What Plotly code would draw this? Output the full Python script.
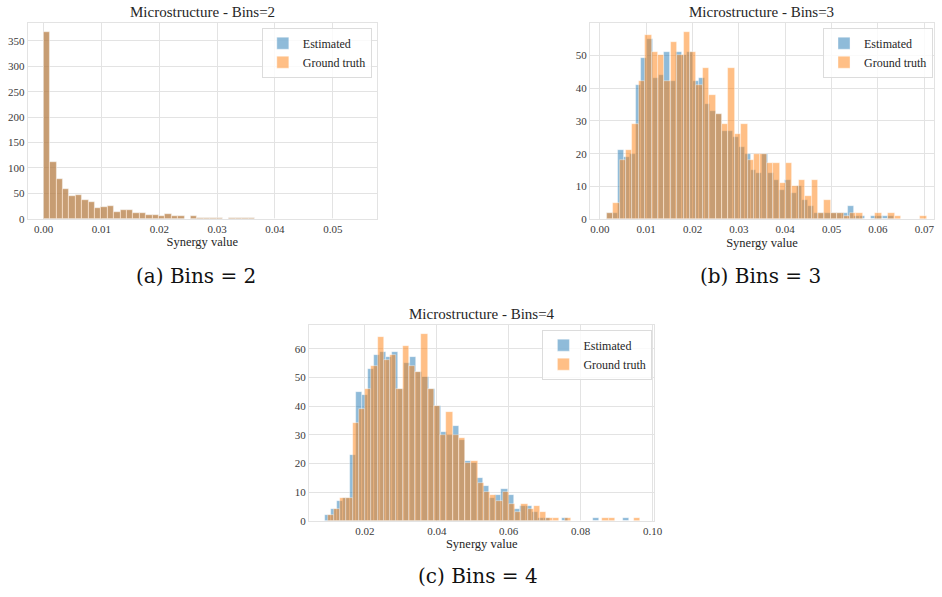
import plotly.graph_objects as go

# ---------------- data ----------------
# Panel (a): Bins=2
a_start, a_width = 0.0, 0.001106
a_est = [367, 111, 79, 59, 44, 47, 36, 33, 22, 24, 25, 13, 17, 17, 12, 12, 8, 7, 6, 9,
         6, 6, 0, 5, 2, 2, 2, 2, 0, 2, 2, 2, 2, 0, 0, 0, 0, 0, 0, 0,
         0, 0, 0, 0, 0, 0, 0, 0, 0, 0]
a_gt = [367, 111, 79, 59, 44, 47, 36, 33, 22, 24, 25, 13, 17, 17, 12, 12, 8, 7, 6, 9,
        6, 6, 0, 5, 2, 2, 2, 2, 0, 2, 2, 2, 2, 0, 0, 0, 0, 0, 0, 0,
        0, 0, 0, 0, 0, 0, 0, 0, 0, 0]

# Panel (b): Bins=3
b_est_start, b_est_width = 0.0015, 0.00124
b_est = [2, 2, 21, 19, 20, 41, 49, 55, 43, 44, 51, 42, 51, 50, 51, 42, 43, 35, 33, 32,
         27, 27, 25, 22, 20, 15, 14, 20, 14, 12, 9, 12, 8, 10, 6, 4, 2, 2, 2, 2,
         2, 2, 4, 1, 1, 0, 1, 1, 1, 1]
b_gt_start, b_gt_width = 0.0015, 0.00138
b_gt = [2, 5, 18, 21, 29, 42, 56, 51, 50, 42, 54, 50, 57, 51, 41, 46, 38, 32, 29, 46,
        26, 29, 18, 20, 20, 17, 17, 11, 17, 10, 12, 7, 12, 2, 6, 2, 2, 1, 2, 2,
        0, 0, 2, 0, 2, 1, 0, 0, 0, 1]

# Panel (c): Bins=4
c_est_start, c_est_width = 0.009, 0.00169
c_est = [2, 4, 7, 8, 23, 45, 44, 53, 58, 59, 57, 59, 46, 55, 57, 52, 50, 46, 40, 31,
         30, 33, 28, 21, 20, 15, 12, 8, 9, 11, 9, 4, 5, 5, 3, 1, 1, 0, 0, 1,
         0, 0, 0, 0, 1, 0, 0, 0, 0, 1]
c_gt_start, c_gt_width = 0.0097, 0.001736
c_gt = [2, 4, 8, 8, 34, 39, 46, 54, 64, 56, 58, 46, 61, 54, 52, 65, 46, 40, 30, 38,
        30, 29, 20, 21, 13, 10, 9, 7, 10, 6, 3, 6, 4, 5, 3, 1, 1, 0, 1, 0,
        0, 0, 0, 0, 1, 1, 0, 0, 0, 1]

titles = ["Microstructure - Bins=2", "Microstructure - Bins=3", "Microstructure - Bins=4"]
captions = ["(a) Bins = 2", "(b) Bins = 3", "(c) Bins = 4"]
series_names = ["Estimated", "Ground truth"]

# ---------------- styling ----------------
W, H = 942, 597
FONT = "Liberation Serif"
TXT = "#262626"
GRID = "#e3e3e3"
BLUE = "rgba(31,119,180,0.5)"
ORANGE = "rgba(255,127,14,0.5)"
EDGE = "rgba(255,255,255,0.55)"

def px_x(p):
    return p / W

def px_y(p):
    return 1 - p / H

# panel boxes in pixels: (left, right, top, bottom)
boxes = [(28, 380, 23.3, 221), (595, 942, 23.3, 221.5), (311.7, 660, 328.3, 526)]
xranges = [[-0.00275, 0.0576], [-0.00214, 0.0721], [0.0045, 0.1005]]
yranges = [[0, 385], [0, 59.8], [0, 68.3]]
xdticks = [0.01, 0.01, 0.02]
ydticks = [50, 10, 10]
legend_pos = [(375, 28), (941, 28), (658, 333)]
caption_pos = [(198, 279), (767, 279), (482, 582)]

panels = [
    (a_start, a_width, a_est, a_start, a_width, a_gt),
    (b_est_start, b_est_width, b_est, b_gt_start, b_gt_width, b_gt),
    (c_est_start, c_est_width, c_est, c_gt_start, c_gt_width, c_gt),
]

fig = go.Figure()
layout = {}
annotations = []

for k, (es, ew, ec, gs, gw, gc) in enumerate(panels):
    ax = "" if k == 0 else str(k + 1)
    lg = "legend" if k == 0 else f"legend{k + 1}"
    for name, start, width, counts, color in [
        (series_names[0], es, ew, ec, BLUE),
        (series_names[1], gs, gw, gc, ORANGE),
    ]:
        xs = [start + width * i for i in range(len(counts))]
        fig.add_trace(go.Bar(
            x=xs, y=counts, width=width, offset=0, name=name,
            marker=dict(color=color, line=dict(color=EDGE, width=0.7)),
            xaxis="x" + ax, yaxis="y" + ax, legend=lg, showlegend=True,
            hoverinfo="skip",
        ))
    l, r, t, b = boxes[k]
    layout["xaxis" + ax] = dict(
        domain=[px_x(l), px_x(r)], range=xranges[k], anchor="y" + ax,
        dtick=xdticks[k], tick0=0, tickformat=".2f",
        showgrid=True, gridcolor=GRID, gridwidth=1, zeroline=False,
        showline=True, linecolor=GRID, mirror=True, linewidth=1,
        ticks="", tickfont=dict(family=FONT, size=11, color="#3a3a3a"),
        title=dict(text="Synergy value", font=dict(family=FONT, size=12.5, color=TXT), standoff=3),
    )
    layout["yaxis" + ax] = dict(
        domain=[px_y(b), px_y(t)], range=yranges[k], anchor="x" + ax,
        dtick=ydticks[k], tick0=0,
        showgrid=True, gridcolor=GRID, gridwidth=1, zeroline=False,
        showline=True, linecolor=GRID, mirror=True, linewidth=1,
        ticks="", tickfont=dict(family=FONT, size=11, color="#3a3a3a"),
    )
    lx, ly = legend_pos[k]
    layout[lg] = dict(
        x=px_x(lx), y=px_y(ly), xanchor="right", yanchor="top",
        xref="paper", yref="paper",
        bgcolor="rgba(255,255,255,0.8)", bordercolor="#dcdcdc", borderwidth=1,
        font=dict(family=FONT, size=12, color=TXT),
        tracegroupgap=0, itemwidth=30,
    )
    annotations.append(dict(
        text=titles[k], x=(px_x(l) + px_x(r)) / 2, y=px_y(t - 1),
        xref="paper", yref="paper", xanchor="center", yanchor="bottom",
        showarrow=False, font=dict(family=FONT, size=15, color=TXT),
    ))
    cx, cy = caption_pos[k]
    annotations.append(dict(
        text=captions[k], x=px_x(cx), y=px_y(cy),
        xref="paper", yref="paper", xanchor="center", yanchor="middle",
        showarrow=False, font=dict(family="DejaVu Serif", size=20, color="#111111"),
    ))

fig.update_layout(
    width=W, height=H, margin=dict(l=0, r=0, t=0, b=0),
    paper_bgcolor="white", plot_bgcolor="white",
    barmode="overlay", bargap=0,
    annotations=annotations,
    **layout,
)

fig.write_html("out.html")
